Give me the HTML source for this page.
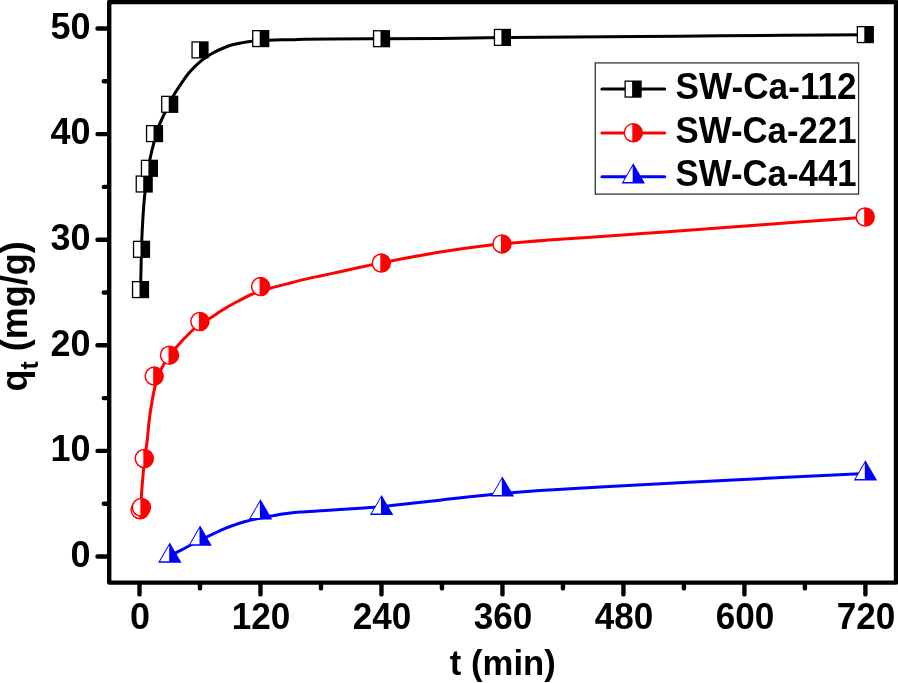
<!DOCTYPE html>
<html lang="en"><head><meta charset="utf-8"><title>qt vs t</title>
<style>html,body{margin:0;padding:0;background:#fff}body{width:898px;height:683px;overflow:hidden}svg{display:block}text{font-family:"Liberation Sans",Arial,Helvetica,sans-serif;font-weight:bold;fill:#000}</style></head><body>
<svg width="898" height="683" viewBox="0 0 898 683">
<rect width="898" height="683" fill="#fff"/>
<g fill="none" stroke-width="3" stroke-linecap="round" stroke-linejoin="round">
<path d="M140.50 289.60 C140.58 286.33 140.82 277.43 141.00 270.00 C141.18 262.57 141.30 253.33 141.60 245.00 C141.90 236.67 142.33 227.83 142.80 220.00 C143.27 212.17 143.73 205.00 144.40 198.00 C145.07 191.00 145.90 184.33 146.80 178.00 C147.70 171.67 148.58 166.02 149.80 160.00 C151.02 153.98 152.68 147.32 154.10 141.90 C155.52 136.48 156.33 132.73 158.30 127.50 C160.27 122.27 163.33 115.87 165.90 110.50 C168.47 105.13 171.30 99.57 173.70 95.30 C176.10 91.03 177.92 88.45 180.30 84.90 C182.68 81.35 185.47 77.15 188.00 74.00 C190.53 70.85 193.05 68.40 195.50 66.00 C197.95 63.60 200.62 61.27 202.70 59.60 C204.78 57.93 206.03 57.25 208.00 56.00 C209.97 54.75 211.92 53.43 214.50 52.10 C217.08 50.77 220.52 49.22 223.50 48.00 C226.48 46.78 229.43 45.65 232.40 44.80 C235.37 43.95 238.37 43.43 241.30 42.90 C244.23 42.37 245.43 42.05 250.00 41.60 C254.57 41.15 261.82 40.52 268.70 40.20 C275.58 39.88 285.25 39.87 291.30 39.70 C297.35 39.53 298.55 39.33 305.00 39.20 C311.45 39.07 317.25 38.97 330.00 38.90 C342.75 38.83 363.17 38.88 381.50 38.80 C399.83 38.72 419.85 38.60 440.00 38.40 C460.15 38.20 469.07 37.92 502.40 37.60 C535.73 37.28 603.73 36.80 640.00 36.50 C676.27 36.20 682.45 36.10 720.00 35.80 C757.55 35.50 841.08 34.88 865.30 34.70" stroke="#000"/>
<path d="M140.60 508.50 C140.87 504.58 141.50 493.42 142.20 485.00 C142.90 476.58 143.95 465.50 144.80 458.00 C145.65 450.50 146.60 446.00 147.30 440.00 C148.00 434.00 148.22 428.42 149.00 422.00 C149.78 415.58 150.97 407.55 152.00 401.50 C153.03 395.45 154.12 390.12 155.20 385.70 C156.28 381.28 157.13 378.47 158.50 375.00 C159.87 371.53 161.52 368.15 163.40 364.90 C165.28 361.65 167.55 358.55 169.80 355.50 C172.05 352.45 173.42 350.52 176.90 346.60 C180.38 342.68 186.85 335.77 190.70 332.00 C194.55 328.23 196.88 326.23 200.00 324.00 C203.12 321.77 205.32 321.13 209.40 318.60 C213.48 316.07 219.60 311.77 224.50 308.80 C229.40 305.83 234.33 303.18 238.80 300.80 C243.27 298.42 246.10 296.58 251.30 294.50 C256.50 292.42 264.07 290.07 270.00 288.30 C275.93 286.53 281.12 285.38 286.90 283.90 C292.68 282.42 298.77 280.80 304.70 279.40 C310.63 278.00 316.62 276.78 322.50 275.50 C328.38 274.22 333.75 273.07 340.00 271.70 C346.25 270.33 353.08 268.77 360.00 267.30 C366.92 265.83 374.00 264.40 381.50 262.90 C389.00 261.40 396.88 259.82 405.00 258.30 C413.12 256.78 420.43 255.42 430.20 253.80 C439.97 252.18 451.63 250.27 463.60 248.60 C475.57 246.93 488.07 245.22 502.00 243.80 C515.93 242.38 532.43 241.18 547.20 240.10 C561.97 239.02 576.80 238.25 590.60 237.30 C604.40 236.35 617.63 235.30 630.00 234.40 C642.37 233.50 647.87 233.15 664.80 231.90 C681.73 230.65 709.32 228.53 731.60 226.90 C753.88 225.27 776.23 223.72 798.50 222.10 C820.77 220.48 854.08 218.02 865.20 217.20" stroke="#f00"/>
<path d="M169.80 556.00 C170.48 555.65 170.40 555.73 173.90 553.90 C177.40 552.07 185.33 547.82 190.80 545.00 C196.27 542.18 201.45 539.57 206.70 537.00 C211.95 534.43 217.85 531.55 222.30 529.60 C226.75 527.65 229.70 526.62 233.40 525.30 C237.10 523.98 240.78 522.75 244.50 521.70 C248.22 520.65 251.23 519.95 255.70 519.00 C260.17 518.05 266.48 516.87 271.30 516.00 C276.12 515.13 279.82 514.45 284.60 513.80 C289.38 513.15 294.10 512.60 300.00 512.10 C305.90 511.60 313.33 511.22 320.00 510.80 C326.67 510.38 329.77 510.27 340.00 509.60 C350.23 508.93 372.48 507.52 381.40 506.80 C390.32 506.08 383.73 506.40 393.50 505.30 C403.27 504.20 423.68 501.98 440.00 500.20 C456.32 498.42 474.73 496.20 491.40 494.60 C508.07 493.00 521.90 491.87 540.00 490.60 C558.10 489.33 567.00 488.82 600.00 487.00 C633.00 485.18 693.77 481.95 738.00 479.70 C782.23 477.45 844.17 474.53 865.40 473.50" stroke="#00f"/>
</g>
<g><rect x="131.90" y="281.00" width="17.20" height="17.20" fill="#000"/><rect x="133.20" y="282.30" width="6.30" height="14.60" fill="#fff"/><rect x="132.90" y="240.70" width="17.20" height="17.20" fill="#000"/><rect x="134.20" y="242.00" width="6.30" height="14.60" fill="#fff"/><rect x="135.60" y="175.40" width="17.20" height="17.20" fill="#000"/><rect x="136.90" y="176.70" width="6.30" height="14.60" fill="#fff"/><rect x="140.80" y="159.70" width="17.20" height="17.20" fill="#000"/><rect x="142.10" y="161.00" width="6.30" height="14.60" fill="#fff"/><rect x="145.90" y="125.00" width="17.20" height="17.20" fill="#000"/><rect x="147.20" y="126.30" width="6.30" height="14.60" fill="#fff"/><rect x="161.10" y="95.70" width="17.20" height="17.20" fill="#000"/><rect x="162.40" y="97.00" width="6.30" height="14.60" fill="#fff"/><rect x="191.40" y="41.30" width="17.20" height="17.20" fill="#000"/><rect x="192.70" y="42.60" width="6.30" height="14.60" fill="#fff"/><rect x="252.10" y="30.00" width="17.20" height="17.20" fill="#000"/><rect x="253.40" y="31.30" width="6.30" height="14.60" fill="#fff"/><rect x="372.90" y="30.10" width="17.20" height="17.20" fill="#000"/><rect x="374.20" y="31.40" width="6.30" height="14.60" fill="#fff"/><rect x="493.80" y="28.80" width="17.20" height="17.20" fill="#000"/><rect x="495.10" y="30.10" width="6.30" height="14.60" fill="#fff"/><rect x="856.70" y="26.00" width="17.20" height="17.20" fill="#000"/><rect x="858.00" y="27.30" width="6.30" height="14.60" fill="#fff"/></g>
<g><circle cx="140.10" cy="509.80" r="9.75" fill="#f00"/><path d="M139.10 501.61 A8.25 8.25 0 0 0 139.10 517.99 Z" fill="#fff"/><circle cx="141.40" cy="507.40" r="9.75" fill="#f00"/><path d="M140.40 499.21 A8.25 8.25 0 0 0 140.40 515.59 Z" fill="#fff"/><circle cx="144.30" cy="458.50" r="9.75" fill="#f00"/><path d="M143.30 450.31 A8.25 8.25 0 0 0 143.30 466.69 Z" fill="#fff"/><circle cx="154.20" cy="376.10" r="9.75" fill="#f00"/><path d="M153.20 367.91 A8.25 8.25 0 0 0 153.20 384.29 Z" fill="#fff"/><circle cx="169.50" cy="355.20" r="9.75" fill="#f00"/><path d="M168.50 347.01 A8.25 8.25 0 0 0 168.50 363.39 Z" fill="#fff"/><circle cx="199.90" cy="321.50" r="9.75" fill="#f00"/><path d="M198.90 313.31 A8.25 8.25 0 0 0 198.90 329.69 Z" fill="#fff"/><circle cx="260.60" cy="286.60" r="9.75" fill="#f00"/><path d="M259.60 278.41 A8.25 8.25 0 0 0 259.60 294.79 Z" fill="#fff"/><circle cx="381.30" cy="263.10" r="9.75" fill="#f00"/><path d="M380.30 254.91 A8.25 8.25 0 0 0 380.30 271.29 Z" fill="#fff"/><circle cx="502.00" cy="243.90" r="9.75" fill="#f00"/><path d="M501.00 235.71 A8.25 8.25 0 0 0 501.00 252.09 Z" fill="#fff"/><circle cx="865.20" cy="217.00" r="9.75" fill="#f00"/><path d="M864.20 208.81 A8.25 8.25 0 0 0 864.20 225.19 Z" fill="#fff"/></g>
<g><path d="M169.80 542.60 L181.50 562.80 L158.10 562.80 Z" fill="#00f"/><path d="M169.20 545.53 L169.20 561.30 L160.07 561.30 Z" fill="#fff"/><path d="M200.10 525.50 L211.80 545.70 L188.40 545.70 Z" fill="#00f"/><path d="M199.50 528.43 L199.50 544.20 L190.37 544.20 Z" fill="#fff"/><path d="M260.50 499.23 L272.20 519.43 L248.80 519.43 Z" fill="#00f"/><path d="M259.90 502.16 L259.90 517.93 L250.77 517.93 Z" fill="#fff"/><path d="M381.60 494.90 L393.30 515.10 L369.90 515.10 Z" fill="#00f"/><path d="M381.00 497.83 L381.00 513.60 L371.87 513.60 Z" fill="#fff"/><path d="M502.40 476.40 L514.10 496.60 L490.70 496.60 Z" fill="#00f"/><path d="M501.80 479.33 L501.80 495.10 L492.67 495.10 Z" fill="#fff"/><path d="M865.40 460.25 L877.10 480.45 L853.70 480.45 Z" fill="#00f"/><path d="M864.80 463.18 L864.80 478.95 L855.67 478.95 Z" fill="#fff"/></g>
<g stroke="#000" stroke-width="4.4" fill="none" stroke-linecap="round">
<path d="M109.20 2.00 H896.00 V582.60 H109.20 Z" stroke-linejoin="round"/>
<path d="M108.20 556.50 H97.50"/>
<path d="M108.20 503.70 H103.80"/>
<path d="M108.20 450.90 H97.50"/>
<path d="M108.20 398.10 H103.80"/>
<path d="M108.20 345.30 H97.50"/>
<path d="M108.20 292.50 H103.80"/>
<path d="M108.20 239.70 H97.50"/>
<path d="M108.20 186.90 H103.80"/>
<path d="M108.20 134.10 H97.50"/>
<path d="M108.20 81.30 H103.80"/>
<path d="M108.20 28.50 H97.50"/>
<path d="M139.50 583.60 V594.40"/>
<path d="M199.99 583.60 V588.40"/>
<path d="M260.48 583.60 V594.40"/>
<path d="M320.98 583.60 V588.40"/>
<path d="M381.47 583.60 V594.40"/>
<path d="M441.96 583.60 V588.40"/>
<path d="M502.45 583.60 V594.40"/>
<path d="M562.94 583.60 V588.40"/>
<path d="M623.43 583.60 V594.40"/>
<path d="M683.92 583.60 V588.40"/>
<path d="M744.42 583.60 V594.40"/>
<path d="M804.91 583.60 V588.40"/>
<path d="M865.40 583.60 V594.40"/>
</g>
<g font-size="36">
<text x="90.6" y="566.70" text-anchor="end">0</text>
<text x="90.6" y="461.10" text-anchor="end">10</text>
<text x="90.6" y="355.50" text-anchor="end">20</text>
<text x="90.6" y="249.90" text-anchor="end">30</text>
<text x="90.6" y="144.30" text-anchor="end">40</text>
<text x="90.6" y="38.70" text-anchor="end">50</text>
<text transform="translate(140.10 629.3) scale(1.000 1)" text-anchor="middle">0</text>
<text transform="translate(261.08 629.3) scale(0.975 1)" text-anchor="middle">120</text>
<text transform="translate(382.07 629.3) scale(0.975 1)" text-anchor="middle">240</text>
<text transform="translate(503.05 629.3) scale(0.975 1)" text-anchor="middle">360</text>
<text transform="translate(624.03 629.3) scale(0.975 1)" text-anchor="middle">480</text>
<text transform="translate(745.02 629.3) scale(0.975 1)" text-anchor="middle">600</text>
<text transform="translate(895.2 629.3) scale(0.975 1)" text-anchor="end">720</text>
<text transform="translate(502.8 675.2) scale(0.963 1)" text-anchor="middle">t (min)</text>
<text transform="translate(27.0 316.4) rotate(-90)" text-anchor="middle">q<tspan font-size="25" dy="10.5">t</tspan><tspan dy="-10.5"> (mg/g)</tspan></text>
</g>
<rect x="595.3" y="62.9" width="263.3" height="131.2" fill="#fff" stroke="#333" stroke-width="1.3"/>
<g fill="none" stroke-width="3" stroke-linecap="round">
<path d="M601.9 88.9 H664.7" stroke="#000"/>
<path d="M601.9 132.9 H664.7" stroke="#f00"/>
<path d="M601.9 176.7 H664.7" stroke="#00f"/>
</g>
<rect x="624.50" y="80.50" width="17.20" height="17.20" fill="#000"/><rect x="625.80" y="81.80" width="6.30" height="14.60" fill="#fff"/>
<circle cx="633.30" cy="132.80" r="9.75" fill="#f00"/><path d="M632.30 124.61 A8.25 8.25 0 0 0 632.30 140.99 Z" fill="#fff"/>
<path d="M633.30 163.33 L645.00 183.53 L621.60 183.53 Z" fill="#00f"/><path d="M632.70 166.26 L632.70 182.03 L623.57 182.03 Z" fill="#fff"/>
<g font-size="36">
<text x="675.6" y="98.7" textLength="181" lengthAdjust="spacingAndGlyphs">SW-Ca-112</text>
<text x="675.6" y="142.5" textLength="181" lengthAdjust="spacingAndGlyphs">SW-Ca-221</text>
<text x="675.6" y="186.0" textLength="181" lengthAdjust="spacingAndGlyphs">SW-Ca-441</text>
</g>
</svg></body></html>
